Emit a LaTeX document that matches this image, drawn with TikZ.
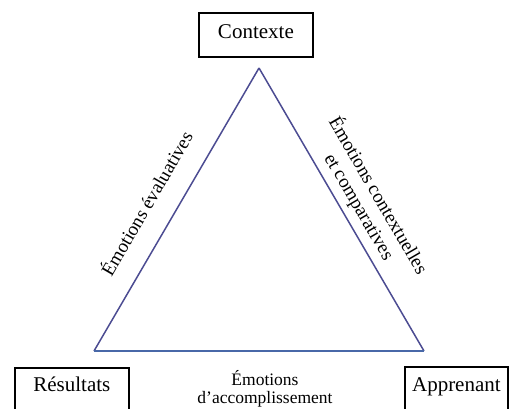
\documentclass[tikz,border=0pt]{standalone}
\usepackage{fontspec}
\setmainfont{Liberation Serif}
\usetikzlibrary{positioning}
\definecolor{sideblue}{RGB}{76,76,146}
\definecolor{baseblue}{RGB}{72,104,168}
\tikzset{
  pole box/.style={draw,line width=1.8pt,inner sep=0pt,anchor=north west,font=\fontsize{21}{24}\selectfont},
  side edge/.style={sideblue,line width=1.5pt},
  base edge/.style={baseblue,line width=1.5pt},
  emo label/.style={text=black,font=\fontsize{19}{22}\selectfont,align=center,inner sep=0pt},
}

\begin{document}
\begin{tikzpicture}[x=1pt,y=-1pt]
  \useasboundingbox (0,0) rectangle (526,408);
  \coordinate (apex) at (259,68);
  \coordinate (left) at (94,351);
  \coordinate (right) at (424,351);
  \node[pole box,minimum width=114pt,text height=26pt,text depth=18pt] (ctx) at (198,12) {Contexte};
  \node[pole box,minimum width=114pt,text height=24pt,text depth=30pt] (res) at (14,367) {Résultats};
  \node[pole box,minimum width=103pt,text height=25pt,text depth=30pt] (app) at (404,366) {Apprenant};
  \draw[side edge] (left) -- node[emo label,sloped,pos=0.47,above=21pt] {Émotions évaluatives} (apex);
  \draw[side edge] (apex) -- node[emo label,sloped,pos=0.52,above=6pt] {Émotions contextuelles\\et comparatives} (right);
  \draw[base edge] (left) -- (right);
  \node[emo label,font=\fontsize{17.5}{18}\selectfont] (acc) at (265,389) {Émotions\\d’accomplissement};
\end{tikzpicture}
\end{document}
